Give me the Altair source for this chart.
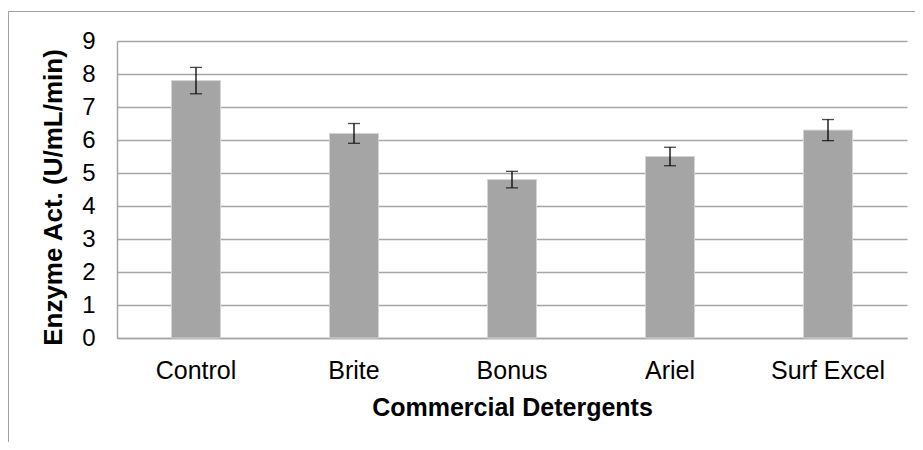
import altair as alt
import pandas as pd

categories = ["Control", "Brite", "Bonus", "Ariel", "Surf Excel"]
activity = [7.8, 6.2, 4.8, 5.5, 6.3]
error = [0.4, 0.3, 0.25, 0.28, 0.32]
y_ticks = [0, 1, 2, 3, 4, 5, 6, 7, 8, 9]

df = pd.DataFrame({"cat": categories, "val": activity, "err": error})
df["lo"] = df["val"] - df["err"]
df["hi"] = df["val"] + df["err"]

FONT = "Liberation Sans"
GRID = "#a6a6a6"

xenc = alt.X(
    "cat:N",
    sort=categories,
    scale=alt.Scale(paddingInner=0.69, paddingOuter=0.345),
    axis=alt.Axis(
        title="Commercial Detergents",
        labelAngle=0,
        labelFontSize=25,
        labelFont=FONT,
        labelColor="black",
        labelPadding=20,
        ticks=False,
        domainColor=GRID,
        domainWidth=1.5,
        titleFont=FONT,
        titleFontSize=25,
        titleFontWeight="bold",
        titleColor="black",
        titlePadding=12,
    ),
)

yscale = alt.Scale(domain=[0, 9], nice=False)
yaxis = alt.Axis(
    title="Enzyme Act. (U/mL/min)",
    values=y_ticks,
    labelOverlap=False,
    labelFontSize=24,
    labelFont=FONT,
    labelColor="black",
    labelPadding=22,
    ticks=False,
    domainColor=GRID,
    domainWidth=1.5,
    grid=True,
    gridColor=GRID,
    gridWidth=1.5,
    titleFont=FONT,
    titleFontSize=26,
    titleFontWeight="bold",
    titleColor="black",
    titlePadding=15,
    titleY=156,
)

base = alt.Chart(df)

bars = base.mark_bar(color="#a5a5a5", stroke="#d4d4d4", strokeWidth=1).encode(
    x=xenc,
    y=alt.Y("val:Q", scale=yscale, axis=yaxis),
)

rules = base.mark_rule(color="black", strokeWidth=1.3).encode(
    x=alt.X("cat:N", sort=categories),
    y=alt.Y("lo:Q", scale=yscale, axis=yaxis),
    y2="hi:Q",
)

cap_lo = base.mark_tick(color="black", size=12, thickness=1.3).encode(
    x=alt.X("cat:N", sort=categories),
    y=alt.Y("lo:Q", scale=yscale, axis=yaxis),
)
cap_hi = base.mark_tick(color="black", size=12, thickness=1.3).encode(
    x=alt.X("cat:N", sort=categories),
    y=alt.Y("hi:Q", scale=yscale, axis=yaxis),
)

border = alt.Chart(pd.DataFrame({"d": [0]})).mark_rect(
    fillOpacity=0, stroke="#a0a0a0", strokeWidth=1
).encode(
    x=alt.value(-108.5),
    x2=alt.value(900),
    y=alt.value(-29.5),
    y2=alt.value(500),
)

chart = (
    alt.layer(border, bars, rules, cap_lo, cap_hi)
    .properties(
        width=790,
        height=297,
        autosize=alt.AutoSizeParams(type="none"),
        padding={"left": 109, "top": 33, "right": 8, "bottom": 104},
        background="white",
    )
    .configure_view(strokeWidth=0)
)

chart.save("out.html", embed_options={"renderer": "svg", "actions": False})
